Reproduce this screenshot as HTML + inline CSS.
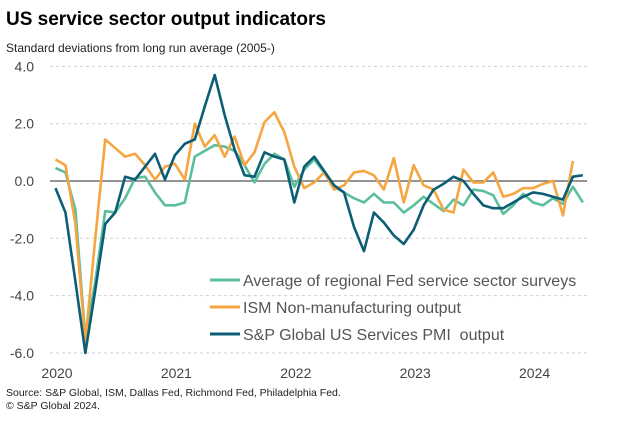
<!DOCTYPE html>
<html><head><meta charset="utf-8"><style>
body{margin:0;background:#fff;font-family:"Liberation Sans",sans-serif}
svg text{font-family:"Liberation Sans",sans-serif}
</style></head><body>
<svg id="c" width="623" height="417" viewBox="0 0 623 417" xmlns="http://www.w3.org/2000/svg">
<text x="6" y="25" font-size="19" font-weight="bold" fill="#000">US service sector output indicators</text>
<text x="6" y="52" font-size="12" fill="#222">Standard deviations from long run average (2005-)</text>
<g id="grid"></g><g id="series"></g><g id="legend"></g>
<text x="6" y="396" font-size="10.5" fill="#222">Source: S&amp;P Global, ISM, Dallas Fed, Richmond Fed, Philadelphia Fed.</text>
<text x="6" y="409" font-size="10.5" fill="#222">© S&amp;P Global 2024.</text>
</svg>
<script>
const yTicks=[4,2,0,-2,-4,-6];
const yTickLabels=["4.0","2.0","0.0","-2.0","-4.0","-6.0"];
const xLabels=["2020","2021","2022","2023","2024"];
const xLabelMonth=[0,12,24,36,48];
const fedAvg=[0.45,0.3,-1.0,-5.5,-3.5,-1.05,-1.1,-0.6,0.1,0.15,-0.4,-0.85,-0.85,-0.75,0.85,1.05,1.25,1.2,1.05,0.55,-0.05,0.6,0.95,0.75,-0.2,0.4,0.75,0.3,-0.2,-0.4,-0.6,-0.75,-0.45,-0.75,-0.75,-1.1,-0.85,-0.55,-0.8,-1.05,-0.65,-0.85,-0.3,-0.35,-0.5,-1.15,-0.85,-0.45,-0.75,-0.85,-0.6,-0.8,-0.2,-0.75];
const ism=[0.75,0.55,-1.5,-5.6,-2.0,1.45,1.15,0.85,0.95,0.55,0.05,0.5,0.6,0.05,2.0,1.2,1.6,0.85,1.55,0.55,1.0,2.05,2.4,1.7,0.5,-0.25,-0.05,0.3,-0.3,-0.15,0.3,0.35,0.2,-0.3,0.8,-0.75,0.55,-0.15,-0.3,-1.0,-1.1,0.4,-0.05,-0.05,0.3,-0.55,-0.45,-0.25,-0.25,-0.1,0.0,-1.2,0.7];
const pmi=[-0.25,-1.1,-3.5,-6.0,-3.8,-1.5,-1.1,0.15,0.05,0.5,0.95,0.05,0.9,1.3,1.45,2.6,3.7,2.3,1.1,0.2,0.15,1.0,0.85,0.75,-0.75,0.5,0.85,0.35,-0.15,-0.4,-1.6,-2.45,-1.1,-1.45,-1.9,-2.2,-1.7,-0.85,-0.3,-0.1,0.15,0.0,-0.45,-0.85,-0.95,-0.95,-0.75,-0.55,-0.4,-0.45,-0.55,-0.65,0.15,0.2];
const NS="http://www.w3.org/2000/svg";
const X=i=>55.5+9.95*i, Y=v=>181-28.65*v;
function mk(t,a,p){const e=document.createElementNS(NS,t);for(const k in a)e.setAttribute(k,a[k]);p.appendChild(e);return e;}
const g=document.getElementById('grid');
yTicks.forEach((v,k)=>{
 const l=mk('line',{x1:50,x2:587,y1:Y(v),y2:Y(v),stroke:v===0?'#555':'#d0d0d0','stroke-width':v===0?1.3:1,'stroke-dasharray':v===0?'':'3,3'},g);
 
 
 const t=mk('text',{x:34,y:Y(v)+5,'text-anchor':'end','font-size':14,fill:'#444'},g);
 t.textContent=yTickLabels[k];
 
 
});
xLabels.forEach((s,k)=>{
 const t=mk('text',{x:X(xLabelMonth[k])+1.5,y:378,'text-anchor':'middle','font-size':14,fill:'#444'},g);
 t.textContent=s;
 
 
});
const sg=document.getElementById('series');
const defs=[[fedAvg,'#5cbf9c','fed-average-line'],[ism,'#f5a641','ism-line'],[pmi,'#0c5e77','pmi-line']];
defs.forEach(([d,c,n])=>{
 const p=mk('polyline',{points:d.map((v,i)=>X(i)+','+Y(v)).join(' '),fill:'none',stroke:c,'stroke-width':2.6,'stroke-linejoin':'round'},sg);
 
 
});
const lg=document.getElementById('legend');
const names=["Average of regional Fed service sector surveys","ISM Non-manufacturing output","S&P Global US Services PMI  output"];
const lnames=['legend-fed-average','legend-ism','legend-pmi'];
names.forEach((s,k)=>{
 const y=280+27*k;
 const l=mk('line',{x1:210,x2:240,y1:y,y2:y,stroke:defs[k][1],'stroke-width':3},lg);
 
 
 const t=mk('text',{x:243,y:y+6,'font-size':16,fill:'#555'},lg);
 t.style.whiteSpace='pre';
 t.textContent=s;
 
 
});
</script>
</body></html>
